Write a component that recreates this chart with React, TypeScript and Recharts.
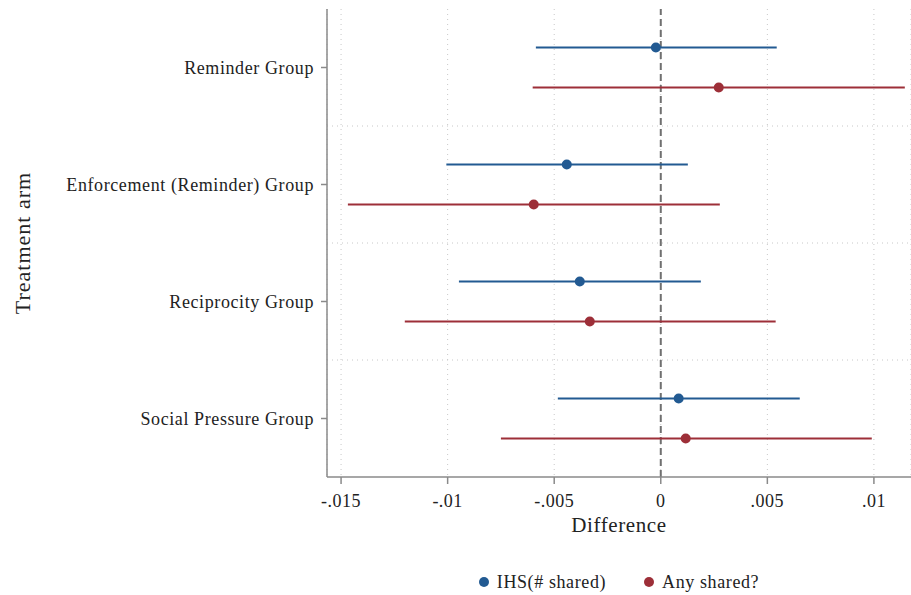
import { CartesianGrid, ErrorBar, Legend, ReferenceLine, Scatter, ScatterChart, XAxis, YAxis } from "recharts";

const groups = ["Reminder Group", "Enforcement (Reminder) Group", "Reciprocity Group", "Social Pressure Group"];

// point estimate and confidence interval, in the order of groups
const ihsEst = [-0.00023, -0.00441, -0.0038, 0.00084];
const ihsLo = [-0.00586, -0.01006, -0.00947, -0.00483];
const ihsHi = [0.00544, 0.00127, 0.00188, 0.00652];

const anyEst = [0.00272, -0.00596, -0.00333, 0.00117];
const anyLo = [-0.00601, -0.01468, -0.01201, -0.0075];
const anyHi = [0.01145, 0.00277, 0.00539, 0.0099];

const xTicks = [-0.015, -0.01, -0.005, 0, 0.005, 0.01];

const BLUE = "#225a92";
const RED = "#9d2f38";
const FONT = "'Liberation Serif', serif";
const TXT = "#222";
const OFF = 0.171;

const center = (i: number) => groups.length - 0.5 - i;

const build = (est: number[], lo: number[], hi: number[], off: number) =>
  est.map((v, i) => ({ x: v, y: center(i) + off, err: [v - lo[i], hi[i] - v] }));

const ihsData = build(ihsEst, ihsLo, ihsHi, OFF);
const anyData = build(anyEst, anyLo, anyHi, -OFF);

const fmtX = (v: number) => {
  if (v === 0) return "0";
  const s = String(Math.abs(v)).replace(/^0/, "");
  return v < 0 ? "-" + s : s;
};

const yTicks = groups.map((_, i) => center(i));
const fmtY = (v: number) => groups[Math.round(groups.length - 0.5 - v)] ?? "";

const dot = (color: string) => (p: any) => <circle cx={p.cx} cy={p.cy} r={5} fill={color} />;

const legendItems = [
  { name: "IHS(# shared)", color: BLUE },
  { name: "Any shared?", color: RED },
];

const LegendBox = () => (
  <div style={{ height: 26, display: "flex", justifyContent: "center", alignItems: "center", gap: 38, fontSize: 18, color: TXT, letterSpacing: 0.6 }}>
    {legendItems.map((it) => (
      <div key={it.name} style={{ display: "flex", alignItems: "center", gap: 8 }}>
        <span style={{ width: 10, height: 10, borderRadius: 5, background: it.color, display: "inline-block" }} />
        <span>{it.name}</span>
      </div>
    ))}
  </div>
);

export default function App() {
  return (
    <div style={{ position: "absolute", left: 0, top: 0, fontFamily: FONT }}>
      <ScatterChart width={911} height={595} margin={{ top: 9, right: 0, bottom: 0, left: 0 }}>
        <CartesianGrid horizontal={false} stroke="#c8c8c8" strokeDasharray="1 4" />
        {[1, 2, 3].map((b) => (
          <ReferenceLine key={b} y={b} stroke="#c8c8c8" strokeDasharray="1 4" />
        ))}
        <ReferenceLine x={0} stroke="#707070" strokeWidth={2} strokeDasharray="7 4" />
        <XAxis
          type="number"
          dataKey="x"
          domain={[-0.01566, 0.01174]}
          allowDataOverflow
          ticks={xTicks}
          tickFormatter={fmtX}
          height={92}
          stroke="#8a8a8a"
          strokeWidth={1.5}
          tickSize={7}
          tickMargin={10}
          tick={{ fontSize: 18, fill: TXT, fontFamily: FONT, letterSpacing: 0.5 }}
          label={{ value: "Difference", position: "insideTop", offset: 40, fontSize: 21, fill: TXT, fontFamily: FONT, letterSpacing: 0.6 }}
        />
        <YAxis
          type="number"
          dataKey="y"
          domain={[0, 4]}
          ticks={yTicks}
          tickFormatter={fmtY}
          width={327}
          stroke="#8a8a8a"
          strokeWidth={1.5}
          tickSize={6}
          tickMargin={7}
          tick={{ fontSize: 18, fill: TXT, fontFamily: FONT, letterSpacing: 0.6 }}
          label={{ value: "Treatment arm", angle: -90, position: "insideLeft", offset: 22, fontSize: 22, fill: TXT, fontFamily: FONT, letterSpacing: 1, style: { textAnchor: "middle" } }}
        />
        <Legend verticalAlign="bottom" content={LegendBox} wrapperStyle={{ left: 327, width: 584, bottom: 0 }} />
        <Scatter name="IHS(# shared)" data={ihsData} fill={BLUE} shape={dot(BLUE)} legendType="circle" isAnimationActive={false}>
          <ErrorBar dataKey="err" direction="x" width={0} stroke={BLUE} strokeWidth={2} />
        </Scatter>
        <Scatter name="Any shared?" data={anyData} fill={RED} shape={dot(RED)} legendType="circle" isAnimationActive={false}>
          <ErrorBar dataKey="err" direction="x" width={0} stroke={RED} strokeWidth={2} />
        </Scatter>
      </ScatterChart>
    </div>
  );
}
